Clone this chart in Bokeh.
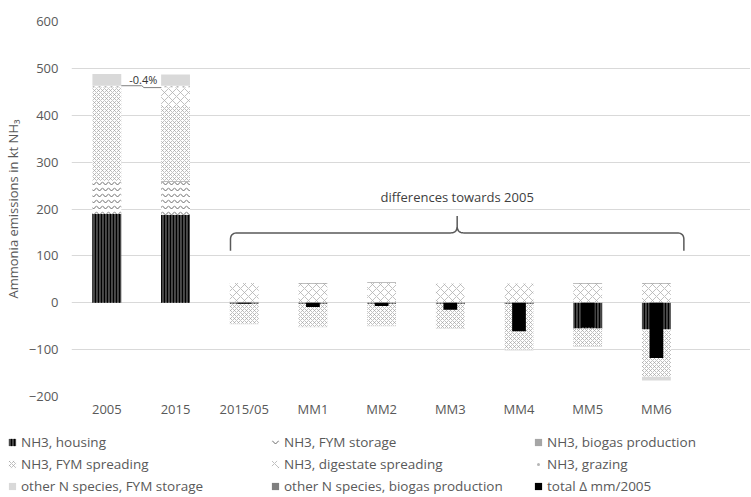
import numpy as np
from bokeh.plotting import figure
from bokeh.layouts import column, row
from bokeh.models import (ColumnDataSource, Legend, LegendItem, FixedTicker,
                          Range1d, Label)
from bokeh.embed import file_html
from bokeh.resources import INLINE

# ---------------- data (kt NH3) ----------------
categories = ["2005", "2015", "2015/05", "MM1", "MM2", "MM3", "MM4", "MM5", "MM6"]
nh3_housing        = [190, 188, -2, -2, -2, -2, -2, -55, -57]
nh3_fym_storage    = [70, 70, 0, -1, -1, -1, -1, -1, -2]
nh3_biogas         = [0, 2, 2, 1, 1, 1, 1, 1, 1]
nh3_fym_spreading  = [200, 160, -43, -48, -46, -52, -97, -36, -99]
nh3_digestate      = [0, 40, 40, 40, 41, 40, 40, 40, 40]
nh3_grazing        = [3, 3, 0, 0, 0, 0, 0, 0, 0]
othern_fym_storage = [25, 24, -1, -1, -1, -1, -2, -2, -8]
othern_biogas      = [0, 0, 0, 1, 1, 0, 0, 1, 1]
total_delta        = [np.nan, np.nan, -2, -9, -7, -15, -61, -52, -118]
change_label = "-0.4%"
y_ticks = [-200, -100, 0, 100, 200, 300, 400, 500, 600]

FONT = "Open Sans"
TXT = "#595959"
W = 750

x = np.arange(1, len(categories) + 1, dtype=float)

p = figure(width=W, height=426, output_backend="svg", toolbar_location=None,
           x_range=Range1d(0.4855, 10.37), y_range=Range1d(-200, 600),
           min_border_left=68, min_border_right=0, min_border_top=21,
           min_border_bottom=30)
p.outline_line_color = None
p.xgrid.visible = False
p.ygrid.grid_line_color = "#d9d9d9"
p.ygrid.grid_line_width = 1
p.yaxis.ticker = FixedTicker(ticks=y_ticks)
p.xaxis.ticker = FixedTicker(ticks=list(x))
p.xaxis.major_label_overrides = {int(i): c for i, c in zip(x, categories)}

for ax in (p.xaxis[0], p.yaxis[0]):
    ax.axis_line_color = None
    ax.major_tick_line_color = None
    ax.minor_tick_line_color = None
    ax.major_tick_in = 0
    ax.major_tick_out = 0
    ax.major_label_text_font = FONT
    ax.major_label_text_font_size = "13px"
    ax.major_label_text_color = TXT
p.yaxis.major_label_standoff = 13
p.xaxis.major_label_standoff = 3
p.yaxis.axis_label = "Ammonia emissions in kt NH\u2083"
p.yaxis.axis_label_text_font = FONT
p.yaxis.axis_label_text_font_size = "13px"
p.yaxis.axis_label_text_font_style = "normal"
p.yaxis.axis_label_text_color = TXT
p.yaxis.axis_label_standoff = 4

# ---------------- styles ----------------
styles = {
    "NH3, housing": dict(fill_color="#4a4a4a", hatch_pattern="vertical_line",
                         hatch_color="#000000", hatch_scale=3, hatch_weight=1.2),
    "NH3, FYM storage": dict(fill_color="white", hatch_pattern="horizontal_wave",
                             hatch_color="#6a6a6a", hatch_scale=6, hatch_weight=1),
    "NH3, biogas production": dict(fill_color="#a6a6a6"),
    "NH3, FYM spreading": dict(fill_color="white", hatch_pattern="diagonal_cross",
                               hatch_color="#a5a5a5", hatch_scale=4, hatch_weight=0.7),
    "NH3, digestate spreading": dict(fill_color="white", hatch_pattern="diagonal_cross",
                                     hatch_color="#b0b0b0", hatch_scale=8, hatch_weight=0.8),
    "NH3, grazing": dict(fill_color="white", hatch_pattern="dot", hatch_color="#b5b5b5",
                         hatch_scale=6, hatch_weight=1),
    "other N species, FYM storage": dict(fill_color="#d9d9d9"),
    "other N species, biogas production": dict(fill_color="#7f7f7f"),
    "total \u0394 mm/2005": dict(fill_color="black"),
}

series = [
    ("NH3, housing", nh3_housing),
    ("NH3, FYM storage", nh3_fym_storage),
    ("NH3, biogas production", nh3_biogas),
    ("NH3, FYM spreading", nh3_fym_spreading),
    ("NH3, digestate spreading", nh3_digestate),
    ("NH3, grazing", nh3_grazing),
    ("other N species, FYM storage", othern_fym_storage),
    ("other N species, biogas production", othern_biogas),
]

# ---------------- stacked bars (positives up, negatives down) ----------------
pos = np.zeros(len(x))
neg = np.zeros(len(x))
for name, vals in series:
    v = np.array(vals, dtype=float)
    bottom = np.where(v >= 0, pos, neg)
    top = bottom + v
    pos = np.where(v >= 0, top, pos)
    neg = np.where(v < 0, top, neg)
    src = ColumnDataSource(dict(x=x, top=top, bottom=bottom))
    p.vbar(x="x", top="top", bottom="bottom", width=0.42, source=src,
           line_color=None, **styles[name])

tsrc = ColumnDataSource(dict(x=x, top=np.array(total_delta, dtype=float)))
p.vbar(x="x", top="top", bottom=0, width=0.2, source=tsrc, line_color=None,
       **styles["total \u0394 mm/2005"])

# ---------------- annotations ----------------
top05 = nh3_housing[0] + nh3_fym_storage[0] + nh3_biogas[0] + nh3_fym_spreading[0] + nh3_digestate[0]
top15 = nh3_housing[1] + nh3_fym_storage[1] + nh3_biogas[1] + nh3_fym_spreading[1] + nh3_digestate[1]
p.line([x[0] + 0.21, x[0] + 0.51, x[0] + 0.54, x[1] - 0.21],
       [top05 + 3, top05 + 3, top15 - 1, top15 - 1], line_color="#7f7f7f", line_width=1)
p.add_layout(Label(x=x[0] + 0.53, y=top05 + 16, text=change_label, text_font=FONT,
                   text_font_size="11px", text_color="#333333", text_align="center",
                   text_baseline="middle"))


def qbez(p0, c, p1, n=12):
    t = np.linspace(0, 1, n)
    xs = (1 - t) ** 2 * p0[0] + 2 * (1 - t) * t * c[0] + t ** 2 * p1[0]
    ys = (1 - t) ** 2 * p0[1] + 2 * (1 - t) * t * c[1] + t ** 2 * p1[1]
    return list(xs), list(ys)


bx0, bx1 = x[2] - 0.20, x[8] + 0.40
bxm = (bx0 + bx1) / 2
y_end, y_h, y_tip = 111, 149, 185
rx, ry = 0.10, 14
bxs, bys = [bx0], [y_end]
for seg in [qbez((bx0, y_h - ry), (bx0, y_h), (bx0 + rx, y_h)),
            qbez((bxm - rx, y_h), (bxm, y_h), (bxm, y_h + ry)),
            ([bxm], [y_tip]),
            qbez((bxm, y_h + ry), (bxm, y_h), (bxm + rx, y_h)),
            qbez((bx1 - rx, y_h), (bx1, y_h), (bx1, y_h - ry)),
            ([bx1], [y_end])]:
    bxs += seg[0]
    bys += seg[1]
p.line(bxs, bys, line_color="#595959", line_width=1.5)
p.add_layout(Label(x=bxm, y=226, text="differences towards 2005", text_font=FONT,
                   text_font_size="13px", text_color="#404040", text_align="center",
                   text_baseline="middle"))

# ---------------- legend (separate strip below the chart) ----------------
p2 = figure(width=W, height=70, output_backend="svg", toolbar_location=None,
            x_range=Range1d(0, 1), y_range=Range1d(0, 1), min_border=0,
            x_axis_location=None, y_axis_location=None)
p2.grid.visible = False
p2.outline_line_color = None

order = ["NH3, housing", "NH3, FYM storage", "NH3, biogas production",
         "NH3, FYM spreading", "NH3, digestate spreading", "NH3, grazing",
         "other N species, FYM storage", "other N species, biogas production",
         "total \u0394 mm/2005"]
items = []
for name in order:
    # one off-screen point so the legend swatch is drawn
    r = p2.scatter(x=[-10], y=[-10], marker="square", line_color=None, **styles[name])
    items.append(LegendItem(label=name, renderers=[r]))

col_x = [3, 266, 529]
for c in range(3):
    legend = Legend(items=items[c::3], orientation="vertical", location=(col_x[c], 1),
                    glyph_width=18, glyph_height=18, label_standoff=0,
                    label_height=18, spacing=4, padding=0, margin=0,
                    border_line_color=None, background_fill_alpha=0,
                    label_text_font=FONT, label_text_font_size="13.5px",
                    label_text_color=TXT)
    p2.add_layout(legend, "center")

open("out.html", "w").write(file_html(column(p, row(p2, spacing=0), spacing=0), INLINE))
